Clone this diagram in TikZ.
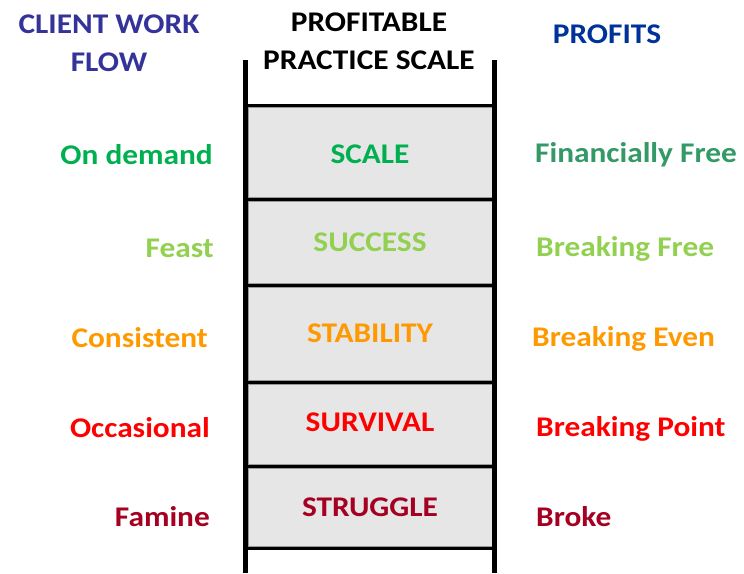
\documentclass[tikz,border=0pt]{standalone}
\usepackage{fontspec}
\setmainfont{Carlito}[FakeStretch=1.1]
\usepackage{tikz}

\definecolor{headblue}{RGB}{51,51,153}
\definecolor{profblue}{RGB}{0,51,153}
\definecolor{lvlgreen}{RGB}{0,176,80}
\definecolor{freegreen}{RGB}{51,153,102}
\definecolor{lightgreen}{RGB}{146,208,80}
\definecolor{lvlorange}{RGB}{255,153,0}
\definecolor{lvlred}{RGB}{255,0,0}
\definecolor{darkred}{RGB}{165,0,33}
\definecolor{boxgray}{RGB}{230,230,230}

\tikzset{
  lbl/.style={inner sep=0pt, font=\fontsize{28.5}{32}\selectfont\bfseries},
  head/.style={inner sep=0pt, align=center, font=\fontsize{28.5}{38}\selectfont\bfseries},
  stepbox/.style={fill=boxgray, draw=gray!80, line width=1pt}
}

\begin{document}
\begin{tikzpicture}[x=1pt,y=-1pt]
        \useasboundingbox (0,0) rectangle (744,573);
        % boxes between the rungs
        \draw[stepbox] (248,107) rectangle (492,197);
        \draw[stepbox] (248,201) rectangle (492,283);
        \draw[stepbox] (248,287) rectangle (492,380);
        \draw[stepbox] (248,384) rectangle (492,464);
        \draw[stepbox] (248,468) rectangle (492,546);
        % rungs
        \draw[line width=3pt] (245,105) -- (495,105);
        \draw[line width=3pt] (245,199) -- (495,199);
        \draw[line width=3pt] (245,285) -- (495,285);
        \draw[line width=3pt] (245,382) -- (495,382);
        \draw[line width=3pt] (245,466) -- (495,466);
        \draw[line width=3pt] (245,548) -- (495,548);
        % rails
        \draw[line width=5pt] (245.5,60) -- (245.5,573);
        \draw[line width=5pt] (494.5,60) -- (494.5,573);

        % headings
        \node[head, text=headblue] (flowhead) at (109,43) {CLIENT WORK\\FLOW};
        \node[head] (scalehead) at (369,41) {PROFITABLE\\PRACTICE SCALE};
        \node[head, text=profblue] (profhead) at (607,34) {PROFITS};

        % top step
        \node[lbl, text=lvlgreen, anchor=east] (demand) at (213,155) {On demand};
        \node[lbl, text=lvlgreen] (scale) at (370,154) {SCALE};
        \node[lbl, text=freegreen, anchor=west] (finfree) at (535,155) {Financially Free};
        % sec step
        \node[lbl, text=lightgreen, anchor=east] (feast) at (214,248) {Feast};
        \node[lbl, text=lightgreen] (success) at (370,242) {SUCCESS};
        \node[lbl, text=lightgreen, anchor=west] (brkfree) at (536,249) {Breaking Free};
        % middle step
        \node[lbl, text=lvlorange, anchor=east] (consist) at (208,338) {Consistent};
        \node[lbl, text=lvlorange] (stability) at (370,333) {STABILITY};
        \node[lbl, text=lvlorange, anchor=west] (brkeven) at (532,339) {Breaking Even};
        % fourth step
        \node[lbl, text=lvlred, anchor=east] (occas) at (210,428) {Occasional};
        \node[lbl, text=lvlred] (survival) at (370,422) {SURVIVAL};
        \node[lbl, text=lvlred, anchor=west] (brkpoint) at (536,429) {Breaking Point};
        % bottom step
        \node[lbl, text=darkred, anchor=east] (famine) at (210,517) {Famine};
        \node[lbl, text=darkred] (struggle) at (370,507) {STRUGGLE};
        \node[lbl, text=darkred, anchor=west] (broke) at (536,517) {Broke};
\end{tikzpicture}
\end{document}
